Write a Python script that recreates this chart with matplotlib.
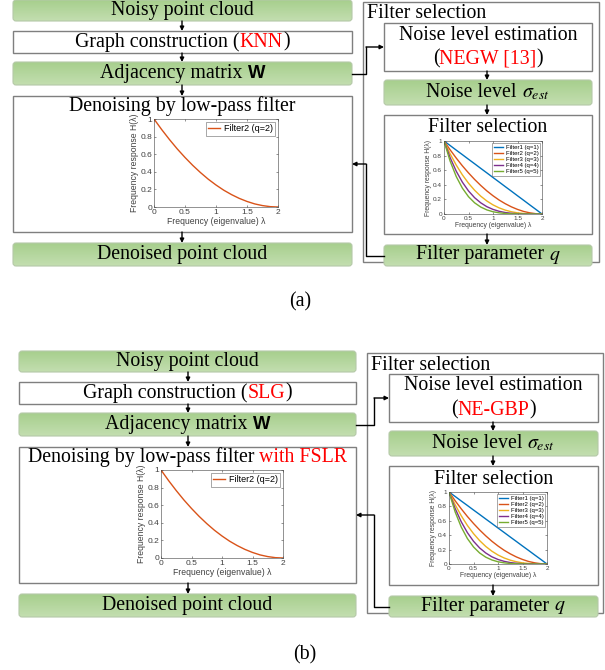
"""Flowchart of the graph low-pass point cloud denoiser, (a) baseline and (b) proposed."""
import matplotlib
matplotlib.use("Agg")
import matplotlib.pyplot as plt  # noqa: E402
import numpy as np
from matplotlib.offsetbox import AnnotationBbox, HPacker, TextArea
from matplotlib.patches import FancyBboxPatch, Rectangle

plt.rcParams["mathtext.fontset"] = "stix"

lam = [0, 0.125, 0.25, 0.375, 0.5, 0.625, 0.75, 0.875, 1.0,
       1.125, 1.25, 1.375, 1.5, 1.625, 1.75, 1.875, 2.0]
h_q1 = [1, .938, .875, .813, .75, .688, .625, .563, .5,
        .438, .375, .313, .25, .188, .125, .063, 0]
h_q2 = [1, .879, .766, .660, .563, .473, .391, .316, .25,
        .191, .141, .098, .063, .035, .016, .004, 0]
h_q3 = [1, .824, .670, .536, .422, .325, .244, .178, .125,
        .084, .053, .031, .016, .007, .002, .0, 0]
h_q4 = [1, .772, .586, .436, .316, .223, .153, .100, .063,
        .037, .020, .010, .004, .001, 0, 0, 0]
h_q5 = [1, .724, .513, .354, .237, .153, .095, .056, .031,
        .016, .007, .003, .001, 0, 0, 0, 0]
filter_curves = [h_q1, h_q2, h_q3, h_q4, h_q5]
filter_labels = ["Filter1 (q=1)", "Filter2 (q=2)", "Filter3 (q=3)",
                 "Filter4 (q=4)", "Filter5 (q=5)"]
filter_colors = ["#0072BD", "#D95319", "#EDB120", "#7E2F8E", "#77AC30"]

W, H = 605, 670
SERIF = "Liberation Serif"
SANS = "Liberation Sans"
FS = 14.3
RED = "#ff0000"
EDGE = "#7f7f7f"

fig = plt.figure(figsize=(W / 100, H / 100), dpi=100)
ax = fig.add_axes([0, 0, 1, 1])
ax.set_xlim(0, W)
ax.set_ylim(H, 0)
ax.axis("off")

grad = np.linspace(0, 1, 64).reshape(-1, 1)
green_cmap = matplotlib.colors.LinearSegmentedColormap.from_list(
    "g", ["#c3deb0", "#a7cf8d"])


def box(x0, y0, x1, y1, green=False):
    if green:
        p = FancyBboxPatch((x0, y0), x1 - x0, y1 - y0,
                           boxstyle="round,pad=0,rounding_size=3",
                           fc="none", ec="#b5c9a8", lw=0.8, zorder=3)
        ax.add_patch(p)
        im = ax.imshow(grad, cmap=green_cmap, aspect="auto",
                       extent=(x0, x1, y0, y1), zorder=2)
        im.set_clip_path(p)
        ax.set_xlim(0, W)
        ax.set_ylim(H, 0)
    else:
        ax.add_patch(Rectangle((x0, y0), x1 - x0, y1 - y0, fc="white",
                               ec=EDGE, lw=1.0, zorder=2))


def rich(x, y, parts, fs=FS):
    """Centre a row of differently styled text pieces on (x, y)."""
    areas = []
    for part in parts:
        txt, props = part[0], dict(part[1]) if len(part) > 1 else {}
        props.setdefault("family", SERIF)
        props.setdefault("size", fs)
        props.setdefault("color", "black")
        areas.append(TextArea(txt, textprops=props))
    pack = HPacker(children=areas, pad=0, sep=0, align="baseline")
    ab = AnnotationBbox(pack, (x, y), box_alignment=(0.5, 0.5),
                        frameon=False, pad=0, zorder=6)
    ax.add_artist(ab)


def arrow(x0, y0, x1, y1):
    ax.annotate("", xy=(x1, y1), xytext=(x0, y0), zorder=5,
                arrowprops=dict(arrowstyle="-|>", color="black", lw=1.0,
                                mutation_scale=6, shrinkA=0, shrinkB=0))


def poly(xs, ys):
    ax.plot(xs[:-1], ys[:-1], color="black", lw=1.0, zorder=5)
    arrow(xs[-2], ys[-2], xs[-1], ys[-1])


def small_plot(l, t, r, b, curves, labels, colors, fs, lab_fs, leg_fs, hl):
    a = fig.add_axes([l / W, 1 - b / H, (r - l) / W, (b - t) / H])
    for c, lab, col in zip(curves, labels, colors):
        a.plot(lam, c, color=col, lw=1.0, label=lab)
    a.set_xlim(0, 2)
    a.set_ylim(0, 1)
    a.set_xticks([0, 0.5, 1, 1.5, 2])
    a.set_xticklabels(["0", "0.5", "1", "1.5", "2"])
    a.set_yticks([0, 0.2, 0.4, 0.6, 0.8, 1])
    a.set_yticklabels(["0", "0.2", "0.4", "0.6", "0.8", "1"])
    a.tick_params(labelsize=fs, length=1.5, width=0.4, pad=1.5,
                  direction="in", colors="#404040", top=True, right=True)
    for s in a.spines.values():
        s.set_linewidth(0.4)
        s.set_color("#404040")
    a.set_xlabel("Frequency (eigenvalue) λ", fontsize=lab_fs,
                 family=SANS, labelpad=1, color="#404040")
    a.set_ylabel("Frequency response H(λ)", fontsize=lab_fs,
                 family=SANS, labelpad=0.5, color="#404040")
    for t_ in a.get_xticklabels() + a.get_yticklabels():
        t_.set_family(SANS)
    leg = a.legend(loc="upper right", frameon=True, fancybox=False,
                   handlelength=hl, borderpad=0.3, labelspacing=0.15,
                   handletextpad=0.4, borderaxespad=0.3,
                   prop={"family": SANS, "size": leg_fs})
    leg.get_frame().set_linewidth(0.4)
    leg.get_frame().set_edgecolor("#404040")
    return a


def panel(dy, left, right, right_col, xarrow, xarrow_r, xv, graph_tag,
          est_tag, fslr, plots):
    x0, x1 = left, right
    yy = lambda v: v + dy  # noqa: E731
    cx = (x0 + x1) / 2
    # left column
    box(x0, yy(0), x1, yy(21), green=True)
    rich(cx, yy(10.5), [("Noisy point cloud",)])
    box(x0, yy(31), x1, yy(53))
    rich(cx, yy(42), [("Graph construction (",), (graph_tag, {"color": RED}),
                      (")",)])
    box(x0, yy(62), x1, yy(85), green=True)
    rich(cx, yy(73.5), [("Adjacency matrix ",),
                        ("W", {"family": SANS, "weight": "bold",
                               "size": FS - 1})])
    box(x0, yy(96), x1, yy(232))
    pieces = [("Denoising by low-pass filter",)]
    if fslr:
        pieces += [(" with FSLR", {"color": RED})]
    rich(cx, yy(106), pieces)
    box(x0, yy(243), x1, yy(266), green=True)
    rich(cx, yy(254.5), [("Denoised point cloud",)])
    for a0, a1 in [(21, 31), (53, 62), (85, 96), (232, 243)]:
        arrow(xarrow, yy(a0), xarrow, yy(a1))

    # right column: filter selection
    ox0, ox1, ix0, ix1 = right_col
    box(ox0, yy(2), ox1, yy(262))
    ax.text(ox0 + 4, yy(14), "Filter selection", family=SERIF, size=FS,
            va="center", ha="left", zorder=6)
    icx = (ix0 + ix1) / 2
    box(ix0, yy(23), ix1, yy(71))
    rich(icx, yy(35), [("Noise level estimation",)])
    rich(icx, yy(59), [("(",), (est_tag, {"color": RED}), (")",)])
    box(ix0, yy(80), ix1, yy(105), green=True)
    rich(icx, yy(92.5), [("Noise level ",), (r"$\sigma_{est}$",)])
    box(ix0, yy(115), ix1, yy(234))
    rich(icx, yy(128), [("Filter selection",)])
    box(ix0, yy(245), ix1, yy(266), green=True)
    rich(icx, yy(255.5), [("Filter parameter ",), (r"$q$",)])
    for a0, a1 in [(71, 80), (105, 115), (234, 245)]:
        arrow(xarrow_r, yy(a0), xarrow_r, yy(a1))

    # connectors between the columns
    poly([x1, xv, xv, ix0], [yy(73.5), yy(73.5), yy(47), yy(47)])
    poly([ix0, xv, xv, x1], [yy(255.5), yy(255.5), yy(164), yy(164)])

    # embedded response plots
    (dl, dt, dr, db), (fl, ft, fr, fb) = plots
    small_plot(dl, yy(dt), dr, yy(db), [h_q2], ["Filter2 (q=2)"],
               [filter_colors[1]], 6.0, 6.2, 6.5, 1.3)
    small_plot(fl, yy(ft), fr, yy(fb), filter_curves, filter_labels,
               filter_colors, 4.6, 4.9, 4.3, 1.6)


panel(0, 13, 352, (363, 599, 384, 592), 182, 487, 366, "KNN", "NEGW [13]",
      False, ((154, 119, 278, 207), (444, 141, 542, 214)))
panel(351, 19, 356, (367, 603, 389, 598), 188, 493, 374, "SLG", "NE-GBP",
      True, ((161, 119, 283, 207), (449, 141, 547, 213)))

ax.text(300, 302, "(a)", family=SERIF, size=FS, ha="center", va="center")
ax.text(305, 655, "(b)", family=SERIF, size=FS, ha="center", va="center")

fig.savefig("out.png", dpi=100)
